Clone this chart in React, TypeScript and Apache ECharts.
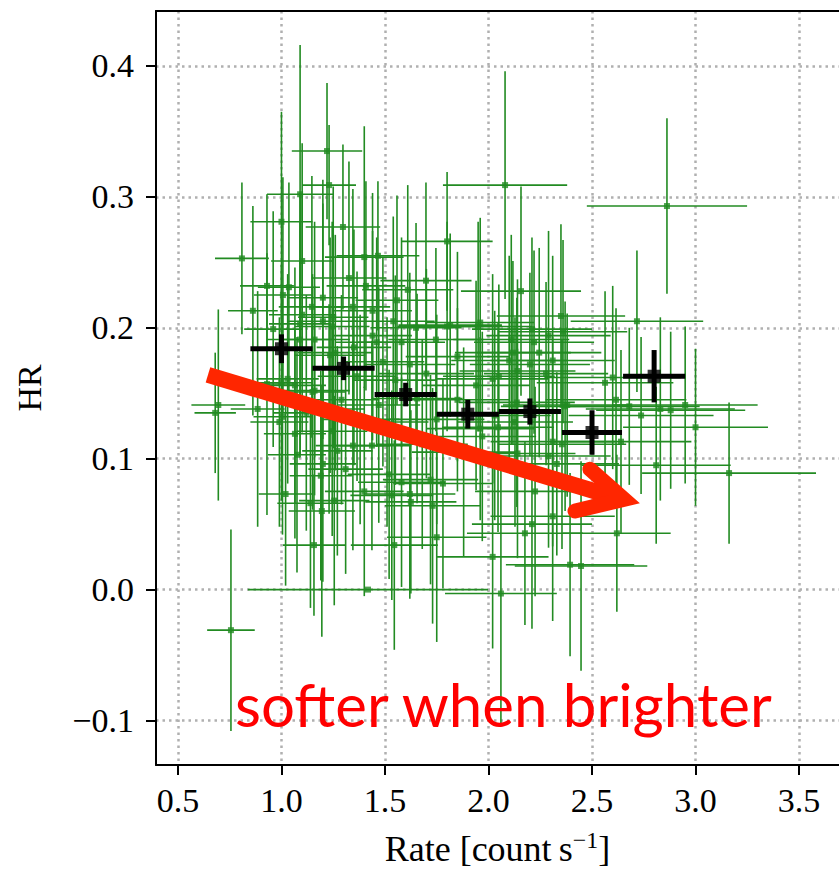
import React, { useEffect, useRef } from "react";
import * as echarts from "echarts";

// axis ranges and tick labels
const xRange = [0.394, 3.693];
const yRange = [-0.134, 0.442];
const xTicks = [0.5, 1.0, 1.5, 2.0, 2.5, 3.0, 3.5];
const yTicks = [-0.1, 0.0, 0.1, 0.2, 0.3, 0.4];

// binned (black) points
const binRate = [1.0, 1.3, 1.6, 1.9, 2.2, 2.5, 2.8];
const binRateErr = [0.15, 0.15, 0.15, 0.15, 0.15, 0.145, 0.15];
const binHR = [0.184, 0.169, 0.149, 0.134, 0.136, 0.12, 0.163];
const binHRErr = [0.011, 0.009, 0.009, 0.011, 0.01, 0.017, 0.02];

// individual observations (green): [rate, HR, rateErr, HRErr]
const obs: number[][] = [
  [0.68, 0.135, 0.10, 0.046], [0.695, 0.141, 0.13, 0.073], [0.756, -0.031, 0.115, 0.077],
  [0.809, 0.253, 0.13, 0.058], [0.862, 0.213, 0.12, 0.08], [0.885, 0.138, 0.13, 0.09],
  [0.93, 0.232, 0.13, 0.07], [0.93, 0.157, 0.13, 0.1], [0.96, 0.199, 0.14, 0.09],
  [0.99, 0.128, 0.14, 0.08], [1.0, 0.281, 0.15, 0.084], [1.0, 0.158, 0.15, 0.09],
  [1.005, 0.132, 0.14, 0.09], [1.007, 0.225, 0.14, 0.09], [1.02, 0.073, 0.13, 0.07],
  [1.03, 0.161, 0.15, 0.08], [1.036, 0.231, 0.15, 0.08], [1.065, 0.119, 0.15, 0.08],
  [1.065, 0.156, 0.15, 0.09], [1.075, 0.103, 0.14, 0.09], [1.09, 0.302, 0.16, 0.114],
  [1.09, 0.191, 0.16, 0.09], [1.09, 0.203, 0.15, 0.1], [1.10, 0.251, 0.15, 0.09],
  [1.10, 0.21, 0.16, 0.09], [1.12, 0.135, 0.16, 0.09], [1.14, 0.066, 0.16, 0.08],
  [1.147, 0.216, 0.16, 0.1], [1.15, 0.151, 0.16, 0.09], [1.157, 0.034, 0.15, 0.054],
  [1.16, 0.152, 0.17, 0.08], [1.16, 0.191, 0.17, 0.09], [1.19, 0.087, 0.15, 0.08],
  [1.195, 0.06, 0.16, 0.096], [1.20, 0.096, 0.16, 0.09], [1.20, 0.223, 0.17, 0.09],
  [1.20, 0.205, 0.17, 0.09], [1.22, 0.335, 0.17, 0.052], [1.23, 0.309, 0.13, 0.046],
  [1.23, 0.138, 0.17, 0.08], [1.235, 0.179, 0.17, 0.09], [1.245, 0.121, 0.17, 0.08],
  [1.245, 0.201, 0.18, 0.08], [1.25, 0.208, 0.17, 0.1], [1.255, 0.068, 0.17, 0.08],
  [1.26, 0.181, 0.18, 0.09], [1.27, 0.106, 0.17, 0.08], [1.29, 0.145, 0.18, 0.08],
  [1.297, 0.277, 0.18, 0.063], [1.31, 0.092, 0.18, 0.08], [1.326, 0.238, 0.18, 0.089],
  [1.345, 0.216, 0.18, 0.09], [1.345, 0.11, 0.18, 0.08], [1.35, 0.185, 0.18, 0.09],
  [1.365, 0.163, 0.19, 0.08], [1.38, 0.13, 0.19, 0.08], [1.40, 0.254, 0.19, 0.1],
  [1.40, 0.075, 0.19, 0.08], [1.408, 0.232, 0.19, 0.08], [1.418, 0.0, 0.58, 0.0],
  [1.437, 0.11, 0.19, 0.08], [1.44, 0.213, 0.19, 0.09], [1.44, 0.194, 0.19, 0.08],
  [1.46, 0.189, 0.2, 0.08], [1.466, 0.255, 0.2, 0.057], [1.47, 0.141, 0.2, 0.09],
  [1.49, 0.174, 0.2, 0.08], [1.51, 0.128, 0.2, 0.08], [1.52, 0.088, 0.2, 0.08],
  [1.533, 0.072, 0.2, 0.08], [1.54, 0.205, 0.2, 0.08], [1.545, 0.034, 0.21, 0.08],
  [1.55, 0.16, 0.2, 0.08], [1.558, 0.221, 0.2, 0.08], [1.58, 0.189, 0.21, 0.08],
  [1.58, 0.082, 0.21, 0.08], [1.61, 0.229, 0.22, 0.08], [1.62, 0.172, 0.22, 0.07],
  [1.62, 0.073, 0.22, 0.08], [1.625, 0.067, 0.22, 0.07], [1.65, 0.2, 0.22, 0.08],
  [1.655, 0.146, 0.22, 0.08], [1.68, 0.111, 0.22, 0.08], [1.698, 0.236, 0.22, 0.075],
  [1.70, 0.165, 0.23, 0.08], [1.72, 0.084, 0.23, 0.08], [1.73, 0.064, 0.23, 0.09],
  [1.746, 0.191, 0.23, 0.07], [1.75, 0.04, 0.24, 0.08], [1.75, 0.13, 0.23, 0.08],
  [1.78, 0.081, 0.24, 0.08], [1.80, 0.266, 0.22, 0.053], [1.80, 0.201, 0.24, 0.08],
  [1.815, 0.202, 0.25, 0.07], [1.85, 0.178, 0.25, 0.08], [1.85, 0.145, 0.25, 0.07],
  [1.88, 0.105, 0.25, 0.08], [1.94, 0.156, 0.26, 0.08], [1.95, 0.201, 0.26, 0.08],
  [1.96, 0.204, 0.26, 0.08], [1.96, 0.123, 0.26, 0.07], [1.97, 0.117, 0.26, 0.08],
  [2.02, 0.025, 0.27, 0.07], [2.02, 0.161, 0.27, 0.08], [2.03, 0.133, 0.27, 0.08],
  [2.046, 0.124, 0.27, 0.08], [2.05, 0.163, 0.27, 0.07], [2.06, -0.003, 0.27, 0.1],
  [2.08, 0.309, 0.30, 0.087], [2.10, 0.175, 0.28, 0.08], [2.11, 0.191, 0.28, 0.08],
  [2.118, 0.181, 0.28, 0.07], [2.128, 0.128, 0.28, 0.08], [2.137, 0.143, 0.28, 0.08],
  [2.14, 0.104, 0.28, 0.08], [2.14, 0.167, 0.28, 0.07], [2.157, 0.228, 0.29, 0.08],
  [2.176, 0.043, 0.28, 0.07], [2.20, 0.172, 0.29, 0.07], [2.21, 0.05, 0.29, 0.08],
  [2.21, 0.199, 0.29, 0.07], [2.22, 0.189, 0.29, 0.07], [2.225, 0.075, 0.29, 0.08],
  [2.245, 0.181, 0.30, 0.08], [2.278, 0.165, 0.30, 0.07], [2.29, 0.194, 0.30, 0.08],
  [2.29, 0.102, 0.30, 0.07], [2.31, 0.175, 0.30, 0.08], [2.31, 0.113, 0.30, 0.08],
  [2.31, 0.056, 0.30, 0.08], [2.33, 0.096, 0.30, 0.07], [2.35, 0.209, 0.31, 0.07],
  [2.355, 0.111, 0.31, 0.08], [2.36, 0.197, 0.31, 0.07], [2.37, 0.14, 0.31, 0.08],
  [2.38, 0.141, 0.31, 0.07], [2.394, 0.019, 0.31, 0.07], [2.447, 0.018, 0.32, 0.08],
  [2.563, 0.158, 0.33, 0.07], [2.60, 0.162, 0.33, 0.07], [2.616, 0.145, 0.34, 0.07],
  [2.62, 0.043, 0.26, 0.06], [2.64, 0.113, 0.34, 0.07], [2.68, 0.14, 0.34, 0.06],
  [2.717, 0.205, 0.32, 0.054], [2.737, 0.133, 0.35, 0.06], [2.81, 0.095, 0.36, 0.06],
  [2.83, 0.138, 0.36, 0.07], [2.862, 0.293, 0.387, 0.067], [2.88, 0.137, 0.36, 0.06],
  [2.95, 0.141, 0.35, 0.06], [3.0, 0.124, 0.35, 0.06], [3.162, 0.089, 0.42, 0.054],
];

// annotation arrow (data coordinates)
const arrowShaft = [[0.645, 0.164], [2.59, 0.0715]];
const arrowHead = [[2.49, 0.092], [2.655, 0.069], [2.418, 0.06]];
const annotationText = "softer when brighter";

const GREEN = "#228B22";
const SERIF = "'Liberation Serif', 'DejaVu Serif', serif";
const GRID_LINE = { color: "#b0b0b0", width: 2.5, type: [2.5, 4] };

function fmt(v: number) {
  const s = Math.abs(v) < 1e-9 ? "0.0" : v.toFixed(1);
  return s.replace("-", "\u2212");
}

function errRender(color: string, width: number) {
  return (params: any, api: any) => {
    const x = api.value(0), y = api.value(1), xe = api.value(2), ye = api.value(3);
    const l = api.coord([x - xe, y]);
    const r = api.coord([x + xe, y]);
    const t = api.coord([x, y + ye]);
    const b = api.coord([x, y - ye]);
    const style = { stroke: color, lineWidth: width };
    const children: any[] = [
      { type: "line", shape: { x1: l[0], y1: l[1], x2: r[0], y2: r[1] }, style },
    ];
    if (ye > 0) children.push({ type: "line", shape: { x1: t[0], y1: t[1], x2: b[0], y2: b[1] }, style });
    return { type: "group", children };
  };
}

export default function App() {
  const ref = useRef<HTMLDivElement>(null);
  useEffect(() => {
    const chart = echarts.init(ref.current!, null, { renderer: "svg" });
    const binData = binRate.map((x, i) => [x, binHR[i], binRateErr[i], binHRErr[i]]);
    chart.setOption({
      animation: false,
      grid: { left: 156, right: 0, top: 11, bottom: 105 },
      xAxis: [
        {
          type: "value", min: xRange[0], max: xRange[1], position: "bottom",
          axisLine: { show: true, onZero: false, lineStyle: { color: "#000", width: 2 } },
          axisTick: { show: true, customValues: xTicks, length: 10, inside: false, lineStyle: { color: "#000", width: 2 } },
          axisLabel: { customValues: xTicks, formatter: fmt, fontFamily: SERIF, fontSize: 34, color: "#000", margin: 18 },
          splitLine: { show: true, lineStyle: GRID_LINE },
          name: "{a|Rate [count\u2009s}{s|\u22121}{a|]}",
          nameLocation: "middle", nameGap: 63,
          nameTextStyle: {
            rich: {
              a: { fontFamily: SERIF, fontSize: 36, color: "#000", lineHeight: 42 },
              s: { fontFamily: SERIF, fontSize: 24, color: "#000", lineHeight: 24, verticalAlign: "top" },
            },
          },
        },
        {
          type: "value", min: xRange[0], max: xRange[1], position: "top",
          axisLine: { show: true, onZero: false, lineStyle: { color: "#000", width: 2 } },
          axisTick: { show: false }, axisLabel: { show: false }, splitLine: { show: false },
        },
      ],
      yAxis: {
        type: "value", min: yRange[0], max: yRange[1],
        axisLine: { show: true, onZero: false, lineStyle: { color: "#000", width: 2 } },
        axisTick: { show: true, customValues: yTicks, length: 10, inside: false, lineStyle: { color: "#000", width: 2 } },
        axisLabel: { customValues: yTicks, formatter: fmt, fontFamily: SERIF, fontSize: 34, color: "#000", margin: 22 },
        splitLine: { show: true, lineStyle: GRID_LINE },
        name: "HR", nameLocation: "middle", nameGap: 110,
        nameTextStyle: { fontFamily: SERIF, fontSize: 34, color: "#000" },
      },
      series: [
        { type: "custom", renderItem: errRender(GREEN, 1.6), data: obs, clip: true, silent: true, z: 2 },
        { type: "scatter", data: obs.map((d) => [d[0], d[1]]), symbol: "rect", symbolSize: 6, itemStyle: { color: GREEN }, silent: true, z: 3 },
        { type: "custom", renderItem: errRender("#000", 5), data: binData, clip: true, silent: true, z: 4 },
        { type: "scatter", data: binData.map((d) => [d[0], d[1]]), symbol: "rect", symbolSize: 13, itemStyle: { color: "#000" }, silent: true, z: 5 },
        { type: "line", data: arrowShaft, symbol: "none", silent: true, z: 6, lineStyle: { color: "#ff2600", width: 16, cap: "butt" } },
        { type: "line", data: arrowHead, symbol: "none", silent: true, z: 6, lineStyle: { color: "#ff2600", width: 15, cap: "round", join: "miter" } },
      ],
      graphic: [
        {
          type: "text", left: 235, top: 674, z: 100,
          style: { text: annotationText, fill: "#ff0000", font: "60px Lato, 'Open Sans', sans-serif" },
        },
      ],
    });
    return () => chart.dispose();
  }, []);
  return <div ref={ref} style={{ position: "absolute", left: 0, top: 0, width: 839, height: 872 }} />;
}
